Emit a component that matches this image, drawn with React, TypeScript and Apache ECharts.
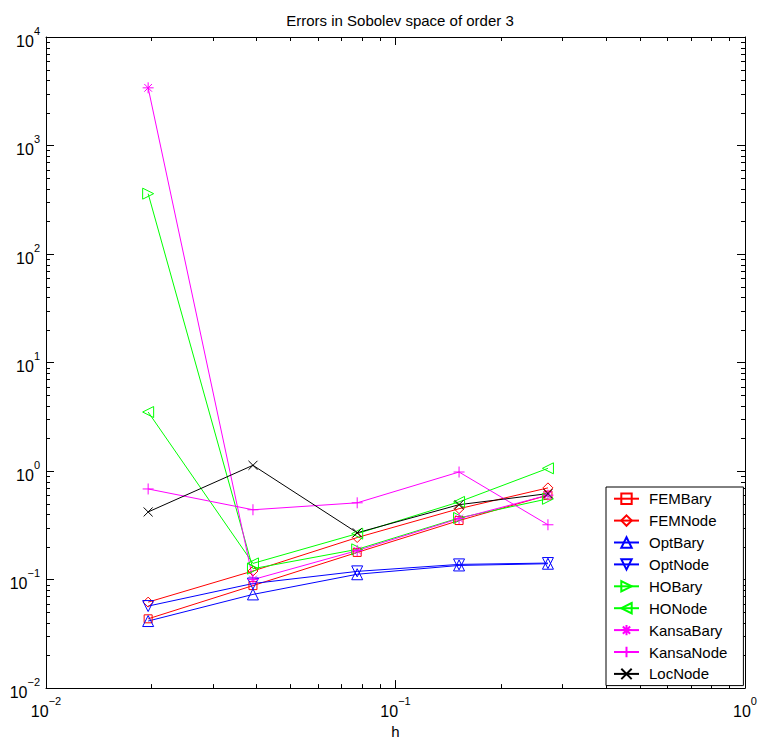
import React, { useEffect, useRef } from "react";
import * as echarts from "echarts";

const hValues = [0.0196, 0.0391, 0.0777, 0.152, 0.273];

const seriesNames = [
  "FEMBary", "FEMNode", "OptBary", "OptNode", "HOBary",
  "HONode", "KansaBary", "KansaNode", "LocNode",
];

const femBary = [0.0435, 0.088, 0.178, 0.35, 0.6];
const femNode = [0.062, 0.12, 0.244, 0.45, 0.7];
const optBary = [0.0415, 0.073, 0.112, 0.135, 0.14];
const optNode = [0.057, 0.092, 0.119, 0.138, 0.142];
const hoBary = [360, 0.126, 0.19, 0.37, 0.555];
const hoNode = [3.5, 0.141, 0.265, 0.52, 1.06];
const kansaBary = [3400, 0.1, 0.185, 0.365, 0.6];
const kansaNode = [0.684, 0.44, 0.51, 0.98, 0.32];
const locNode = [0.42, 1.13, 0.27, 0.49, 0.62];

const seriesValues = [femBary, femNode, optBary, optNode, hoBary, hoNode, kansaBary, kansaNode, locNode];
const seriesColors = ["#ff0000", "#ff0000", "#0000ff", "#0000ff", "#00ff00", "#00ff00", "#ff00ff", "#ff00ff", "#000000"];

const symSquare = "path://M0,0 L10,0 L10,10 L0,10 Z";
const symDiamond = "path://M5,0 L10,5 L5,10 L0,5 Z";
const symUp = "path://M5,0 L10,10 L0,10 Z";
const symDown = "path://M0,0 L10,0 L5,10 Z";
const symRight = "path://M0,0 L10,5 L0,10 Z";
const symLeft = "path://M10,0 L0,5 L10,10 Z";
const symStar = "path://M5,0 L5,10 M0,5 L10,5 M1.5,1.5 L8.5,8.5 M8.5,1.5 L1.5,8.5";
const symPlus = "path://M5,0 L5,10 M0,5 L10,5";
const symCross = "path://M0,0 L10,10 M10,0 L0,10";
const seriesSymbols = [symSquare, symDiamond, symUp, symDown, symRight, symLeft, symStar, symPlus, symCross];
const seriesSymbolSizes = [8, 10, 11, 11, 11, 11, 11, 11, 9];

const xMin = 0.01;
const xMax = 1;
const yMin = 0.01;
const yMax = 10000;
const xDecades = [-2, -1];
const yDecades = [-2, -1, 0, 1, 2, 3];
const minorMultipliers = [2, 3, 4, 5, 6, 7, 8, 9];

const FONT = "'Liberation Sans', Arial, Helvetica, sans-serif";

function supLabel(v: number) {
  const e = Math.round(Math.log10(v));
  return "{b|10}{e|" + (e < 0 ? "\u2212" + Math.abs(e) : String(e)) + "}";
}

export default function App() {
  const ref = useRef<HTMLDivElement>(null);
  useEffect(() => {
    if (!ref.current) return;
    const chart = echarts.init(ref.current, null, { renderer: "svg" });

    const minorData: number[][] = [];
    xDecades.forEach((d) => minorMultipliers.forEach((m) => minorData.push([m * Math.pow(10, d), 1, 0])));
    yDecades.forEach((d) => minorMultipliers.forEach((m) => minorData.push([0.1, m * Math.pow(10, d), 1])));

    const richLabel = {
      b: { fontSize: 16, fontFamily: FONT, color: "#000", verticalAlign: "bottom", lineHeight: 24 },
      e: { fontSize: 11, fontFamily: FONT, color: "#000", verticalAlign: "top", lineHeight: 24 },
    };

    const lineSeries = seriesNames.map((name, i) => ({
      name,
      type: "line",
      data: hValues.map((h, j) => [h, seriesValues[i][j]]),
      symbol: seriesSymbols[i],
      symbolSize: seriesSymbolSizes[i],
      showAllSymbol: true,
      color: seriesColors[i],
      lineStyle: { color: seriesColors[i], width: 1 },
      itemStyle: { color: "none", borderColor: seriesColors[i], borderWidth: 1 },
      emphasis: { disabled: true },
      z: 3,
    }));

    const option = {
      animation: false,
      backgroundColor: "#fff",
      title: {
        text: "Errors in Sobolev space of order 3",
        left: 395,
        top: 8,
        textAlign: "center",
        textStyle: { fontFamily: FONT, fontSize: 15, fontWeight: "normal", color: "#000" },
      },
      grid: { left: 46, top: 37, width: 699, height: 657, containLabel: false },
      legend: {
        data: seriesNames,
        orient: "vertical",
        left: 606,
        top: 487,
        padding: [4, 16, 4, 7],
        itemWidth: 25,
        itemHeight: 13,
        itemGap: 6.5,
        borderColor: "#000",
        borderWidth: 1,
        backgroundColor: "#fff",
        textStyle: { fontFamily: FONT, fontSize: 15, color: "#000", padding: [0, 0, 0, 5] },
        selectedMode: false,
      },
      xAxis: [
        {
          type: "log",
          logBase: 10,
          min: xMin,
          max: xMax,
          name: "h",
          nameLocation: "middle",
          nameGap: 34,
          nameTextStyle: { fontFamily: FONT, fontSize: 15, color: "#000" },
          axisLine: { show: true, lineStyle: { color: "#000", width: 1 } },
          axisTick: { show: true, inside: true, length: 8, lineStyle: { color: "#000" } },
          axisLabel: { show: true, formatter: supLabel, rich: richLabel, margin: 7 },
          splitLine: { show: false },
        },
        {
          type: "log",
          logBase: 10,
          min: xMin,
          max: xMax,
          position: "top",
          axisLine: { show: true, lineStyle: { color: "#000", width: 1 } },
          axisTick: { show: true, inside: true, length: 8, lineStyle: { color: "#000" } },
          axisLabel: { show: false },
          splitLine: { show: false },
        },
      ],
      yAxis: [
        {
          type: "log",
          logBase: 10,
          min: yMin,
          max: yMax,
          axisLine: { show: true, lineStyle: { color: "#000", width: 1 } },
          axisTick: { show: true, inside: true, length: 8, lineStyle: { color: "#000" } },
          axisLabel: { show: true, formatter: supLabel, rich: richLabel, margin: 6 },
          splitLine: { show: false },
        },
        {
          type: "log",
          logBase: 10,
          min: yMin,
          max: yMax,
          position: "right",
          axisLine: { show: true, lineStyle: { color: "#000", width: 1 } },
          axisTick: { show: true, inside: true, length: 8, lineStyle: { color: "#000" } },
          axisLabel: { show: false },
          splitLine: { show: false },
        },
      ],
      series: [
        ...lineSeries,
        {
          type: "custom",
          name: "minorTicks",
          data: minorData,
          encode: { x: 0, y: 1 },
          clip: false,
          silent: true,
          z: 1,
          renderItem: (params: any, api: any) => {
            const t = api.value(2);
            const style = { stroke: "#000", lineWidth: 1 };
            if (t === 0) {
              const v = api.value(0);
              const pb = api.coord([v, yMin]);
              const pt = api.coord([v, yMax]);
              const x = Math.round(pb[0]) + 0.5;
              return {
                type: "group",
                children: [
                  { type: "line", shape: { x1: x, y1: pb[1], x2: x, y2: pb[1] - 4 }, style },
                  { type: "line", shape: { x1: x, y1: pt[1], x2: x, y2: pt[1] + 4 }, style },
                ],
              };
            }
            const w = api.value(1);
            const pl = api.coord([xMin, w]);
            const pr = api.coord([xMax, w]);
            const y = Math.round(pl[1]) + 0.5;
            return {
              type: "group",
              children: [
                { type: "line", shape: { x1: pl[0], y1: y, x2: pl[0] + 4, y2: y }, style },
                { type: "line", shape: { x1: pr[0], y1: y, x2: pr[0] - 4, y2: y }, style },
              ],
            };
          },
        },
      ],
    };

    chart.setOption(option as any);
    return () => chart.dispose();
  }, []);

  return (
    <div
      ref={ref}
      style={{ position: "fixed", left: 0, top: 0, width: 760, height: 744, background: "#fff" }}
    />
  );
}
